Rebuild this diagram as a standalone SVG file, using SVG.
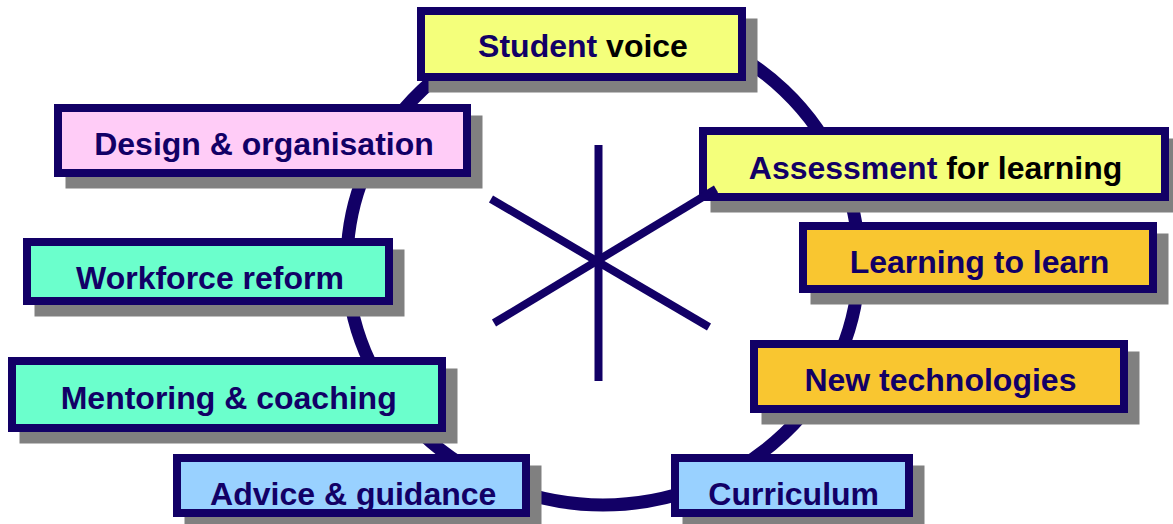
<svg xmlns="http://www.w3.org/2000/svg" width="1173" height="524" viewBox="0 0 1173 524">
<style>
.sh{fill:#808080;stroke:#808080;stroke-width:8}
.bx{stroke:#120066;stroke-width:8}
.t{font-family:"Liberation Sans",Arial,sans-serif;font-weight:bold;font-size:32px;fill:#120066;text-anchor:middle}
.blk{fill:#000000}
.yel{fill:#F4FF7B}
.pnk{fill:#FFCCF7}
.mnt{fill:#6BFFCC}
.org{fill:#F9C630}
.blu{fill:#99D1FF}
.ln{stroke:#120066;fill:none}
</style>
<rect width="1173" height="524" fill="#ffffff"/>
<g id="ring">
<ellipse class="ln" cx="603" cy="262" rx="256" ry="243" stroke-width="13"/>
</g>
<g id="node-student-voice">
<rect class="sh" x="432.5" y="22.5" width="321" height="66"/>
<rect class="bx yel" x="421" y="11" width="321" height="66"/>
<text class="t" x="583" y="57">Student <tspan class="blk">voice</tspan></text>
</g>
<g id="node-design">
<rect class="sh" x="69.5" y="119.5" width="409" height="65"/>
<rect class="bx pnk" x="58" y="108" width="409" height="65"/>
<text class="t" x="264" y="155">Design &amp; organisation</text>
</g>
<g id="node-assessment">
<rect class="sh" x="714.5" y="142.5" width="462" height="66"/>
<rect class="bx yel" x="703" y="131" width="462" height="66"/>
<text class="t" x="935.5" y="179.3">Assessment <tspan class="blk">for learning</tspan></text>
</g>
<g id="node-workforce">
<rect class="sh" x="38.5" y="253.5" width="362" height="59"/>
<rect class="bx mnt" x="27" y="242" width="362" height="59"/>
<text class="t" x="210" y="289">Workforce reform</text>
</g>
<g id="node-learning">
<rect class="sh" x="814.5" y="237.5" width="350" height="63"/>
<rect class="bx org" x="803" y="226" width="350" height="63"/>
<text class="t" x="979.5" y="273.3">Learning to learn</text>
</g>
<g id="node-mentoring">
<rect class="sh" x="23.5" y="372.5" width="430" height="67"/>
<rect class="bx mnt" x="12" y="361" width="430" height="67"/>
<text class="t" x="228.7" y="409">Mentoring &amp; coaching</text>
</g>
<g id="node-newtech">
<rect class="sh" x="765.5" y="355.5" width="370" height="65"/>
<rect class="bx org" x="754" y="344" width="370" height="65"/>
<text class="t" x="940.4" y="390.7">New technologies</text>
</g>
<g id="node-advice">
<rect class="sh" x="188.5" y="469.5" width="349" height="55"/>
<rect class="bx blu" x="177" y="458" width="349" height="55"/>
<text class="t" x="353.2" y="505">Advice &amp; guidance</text>
</g>
<g id="node-curriculum">
<rect class="sh" x="686.5" y="469.5" width="234" height="55"/>
<rect class="bx blu" x="675" y="458" width="234" height="55"/>
<text class="t" x="793.7" y="505">Curriculum</text>
</g>
<g id="connectors">
<line class="ln" x1="598.5" y1="145" x2="598.5" y2="381" stroke-width="8"/>
<line class="ln" x1="491" y1="199" x2="709" y2="327" stroke-width="8"/>
<line class="ln" x1="494" y1="323" x2="716" y2="189" stroke-width="8"/>
</g>
</svg>
